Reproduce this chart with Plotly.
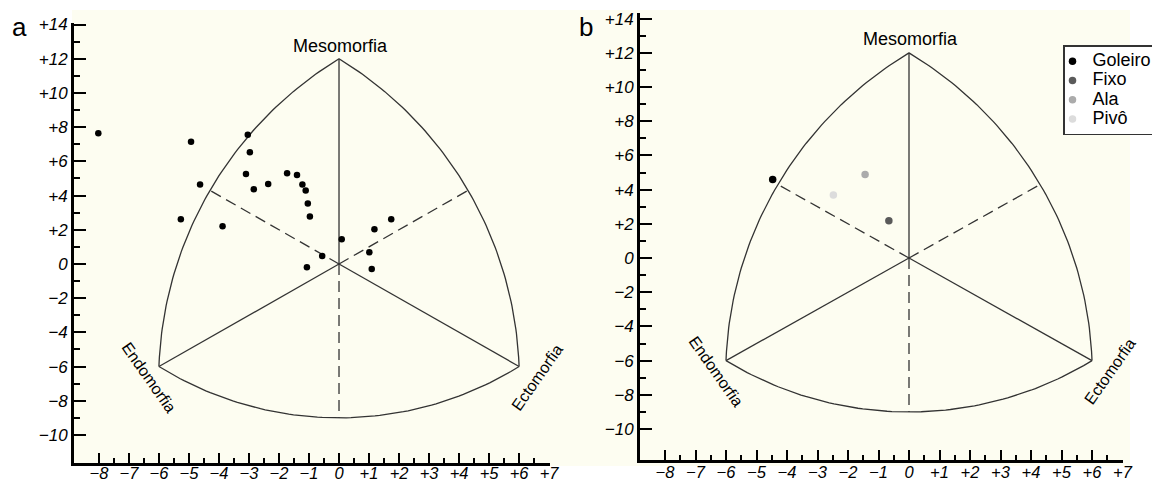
import numpy as np
import plotly.graph_objects as go

# ---------------- data ----------------
# Panel a: individual somatotype points (X = ecto - endo, Y = 2*meso - endo - ecto)
a_x = [-8.02, -4.93, -3.04, -2.97, -3.10, -2.84, -2.36, -1.73, -1.40, -1.22, -1.11, -1.04,
       -0.97, -4.63, -5.27, -3.88, 0.09, -0.56, -1.07, 1.18, 1.74, 1.01, 1.09]
a_y = [7.64, 7.15, 7.56, 6.53, 5.26, 4.37, 4.68, 5.30, 5.20, 4.64, 4.29, 3.53,
       2.77, 4.64, 2.61, 2.20, 1.44, 0.47, -0.19, 2.03, 2.61, 0.68, -0.29]

# Panel b: mean somatotype per playing position
b_positions = ["Goleiro", "Fixo", "Ala", "Pivô"]
b_x = [-4.47, -0.66, -1.44, -2.48]
b_y = [4.60, 2.18, 4.89, 3.68]
b_colors = ["#000000", "#5a5a5a", "#ababab", "#dcdcdc"]

# Somatochart frame
vertex_names = ["Mesomorfia", "Endomorfia", "Ectomorfia"]
vertex_x = [0, -6, 6]
vertex_y = [12, -6, -6]
arc_mid_x = [-4.3, 4.3, 0]      # left arc, right arc, bottom arc
arc_mid_y = [4.3, 4.3, -9]

# Axis ticks
x_tickvals = list(range(-8, 8))
x_ticktext = [("+" if v > 0 else "") + str(v).replace("-", "−") for v in x_tickvals]
x_minor = [v + 0.5 for v in range(-8, 7)]
y_tickvals = list(range(-10, 15, 2))
y_ticktext = [("+" if v > 0 else "") + str(v).replace("-", "−") for v in y_tickvals]
y_minor = list(range(-9, 14, 2))

W, H = 1152, 483
K = 17.1 / 30.0  # y/x pixel ratio used for arc shape


def arc(p1, p2, p3, n=80):
    pts = [(p[0], p[1] * K) for p in (p1, p2, p3)]
    (x1, y1), (x2, y2), (x3, y3) = pts
    A = np.array([[2 * (x2 - x1), 2 * (y2 - y1)], [2 * (x3 - x1), 2 * (y3 - y1)]])
    b = np.array([x2**2 - x1**2 + y2**2 - y1**2, x3**2 - x1**2 + y3**2 - y1**2])
    cx, cy = np.linalg.solve(A, b)
    r = np.hypot(x1 - cx, y1 - cy)
    t1 = np.arctan2(y1 - cy, x1 - cx)
    t2 = np.arctan2(y2 - cy, x2 - cx)
    t3 = np.arctan2(y3 - cy, x3 - cx)
    d13 = (t3 - t1) % (2 * np.pi)
    d12 = (t2 - t1) % (2 * np.pi)
    if d12 < d13:
        ts = np.linspace(t1, t1 + d13, n)
    else:
        ts = np.linspace(t1, t1 - (2 * np.pi - d13), n)
    xs = cx + r * np.cos(ts)
    ys = (cy + r * np.sin(ts)) / K
    return list(xs), list(ys)


fig = go.Figure()

LINE_COL = "#333333"


def add_frame(xa, ya):
    M = (vertex_x[0], vertex_y[0])
    En = (vertex_x[1], vertex_y[1])
    Ec = (vertex_x[2], vertex_y[2])
    arcs = [arc(M, (arc_mid_x[0], arc_mid_y[0]), En),
            arc(M, (arc_mid_x[1], arc_mid_y[1]), Ec),
            arc(En, (arc_mid_x[2], arc_mid_y[2]), Ec)]
    for xs, ys in arcs:
        fig.add_trace(go.Scatter(x=xs, y=ys, mode="lines", xaxis=xa, yaxis=ya,
                                 line=dict(color=LINE_COL, width=1.3),
                                 showlegend=False, hoverinfo="skip"))
    # solid lines from origin to vertices
    for vx, vy in zip(vertex_x, vertex_y):
        fig.add_trace(go.Scatter(x=[0, vx], y=[0, vy], mode="lines", xaxis=xa, yaxis=ya,
                                 line=dict(color=LINE_COL, width=1.3),
                                 showlegend=False, hoverinfo="skip"))
    # dashed lines from origin to arc midpoints
    for mx, my in zip(arc_mid_x, arc_mid_y):
        fig.add_trace(go.Scatter(x=[0, mx], y=[0, my], mode="lines", xaxis=xa, yaxis=ya,
                                 line=dict(color=LINE_COL, width=1.3, dash="11px,6px"),
                                 showlegend=False, hoverinfo="skip"))


add_frame("x", "y")
add_frame("x2", "y2")

fig.add_trace(go.Scatter(x=a_x, y=a_y, mode="markers", xaxis="x", yaxis="y",
                         marker=dict(color="black", size=6.5), showlegend=False))

for name, x, y, c in zip(b_positions, b_x, b_y, b_colors):
    fig.add_trace(go.Scatter(x=[x], y=[y], mode="markers", xaxis="x2", yaxis="y2",
                             name='<span style="font-size:18px">' + name + '</span>',
                             marker=dict(color=c, size=7.5), showlegend=True))

FONT = "Liberation Sans, Arial, Helvetica, sans-serif"
ytickfont = dict(family=FONT, size=17, color="black", style="italic")
xtickfont = dict(family=FONT, size=16.5, color="black", style="italic")


def xaxis_cfg(px0, px1, rng, anchor, standoff):
    return dict(domain=[px0 / W, px1 / W], range=rng, anchor=anchor,
                showline=True, linewidth=3, linecolor="black", mirror=False,
                ticks="inside", ticklen=10, tickwidth=2, tickcolor="black",
                tickvals=x_tickvals, ticktext=x_ticktext, tickfont=xtickfont,
                ticklabelstandoff=standoff,
                minor=dict(tickvals=x_minor, ticks="inside", ticklen=5, tickwidth=2, tickcolor="black"),
                showgrid=False, zeroline=False, fixedrange=True)


def yaxis_cfg(top, bottom, rng, anchor):
    return dict(domain=[(H - bottom) / H, (H - top) / H], range=rng, anchor=anchor,
                showline=True, linewidth=3, linecolor="black", mirror=False,
                ticks="inside", ticklen=12, tickwidth=2, tickcolor="black",
                tickvals=y_tickvals, ticktext=y_ticktext, tickfont=ytickfont,
                minor=dict(tickvals=y_minor, ticks="inside", ticklen=6, tickwidth=2, tickcolor="black"),
                showgrid=False, zeroline=False, fixedrange=True)


annotations = []
for xref, yref, dy_meso in [("x", "y", 13), ("x2", "y2", 14)]:
    annotations.append(dict(x=vertex_x[0], y=vertex_y[0], xref=xref, yref=yref, text=vertex_names[0],
                            showarrow=False, yshift=dy_meso, xshift=1,
                            font=dict(family=FONT, size=18, color="black")))
    annotations.append(dict(x=vertex_x[1], y=vertex_y[1], xref=xref, yref=yref, text=vertex_names[1],
                            showarrow=False, xshift=-10, yshift=-11, textangle=55,
                            font=dict(family=FONT, size=16, color="black")))
    annotations.append(dict(x=vertex_x[2], y=vertex_y[2], xref=xref, yref=yref, text=vertex_names[2],
                            showarrow=False, xshift=18, yshift=-11, textangle=-55,
                            font=dict(family=FONT, size=16, color="black")))

annotations.append(dict(x=19 / W, y=(H - 27) / H, xref="paper", yref="paper", text="a",
                        xanchor="center", yanchor="middle",
                        showarrow=False, font=dict(family=FONT, size=26, color="black")))
annotations.append(dict(x=586 / W, y=(H - 27) / H, xref="paper", yref="paper", text="b",
                        xanchor="center", yanchor="middle",
                        showarrow=False, font=dict(family=FONT, size=26, color="black")))

fig.update_layout(
    width=W, height=H,
    margin=dict(l=0, r=0, t=0, b=0, autoexpand=False),
    paper_bgcolor="white",
    plot_bgcolor="rgba(0,0,0,0)",
    xaxis=xaxis_cfg(74, 550, [-8.83, 7.03], "y", -7),
    yaxis=yaxis_cfg(23, 463, [-11.64, 14.09], "x"),
    xaxis2=xaxis_cfg(640, 1122.5, [-8.82, 7.0], "y2", -5),
    yaxis2=yaxis_cfg(13, 460, [-11.81, 14.33], "x2"),
    shapes=[dict(type="rect", xref="paper", yref="paper", x0=72 / W, x1=1130 / W,
                 y0=(H - 466) / H, y1=(H - 10) / H, fillcolor="#fdfdf1",
                 line=dict(width=0), layer="below")],
    annotations=annotations,
    legend=dict(x=1063 / W, y=(H - 45) / H, xanchor="left", yanchor="top",
                bgcolor="white", bordercolor="#333333", borderwidth=1.5,
                font=dict(family=FONT, size=12.5, color="black"),
                itemwidth=30, indentation=-12, tracegroupgap=0),
    showlegend=True,
)

fig.write_html("out.html", config={"displayModeBar": False},
               post_script="document.body.style.margin='0px';")
